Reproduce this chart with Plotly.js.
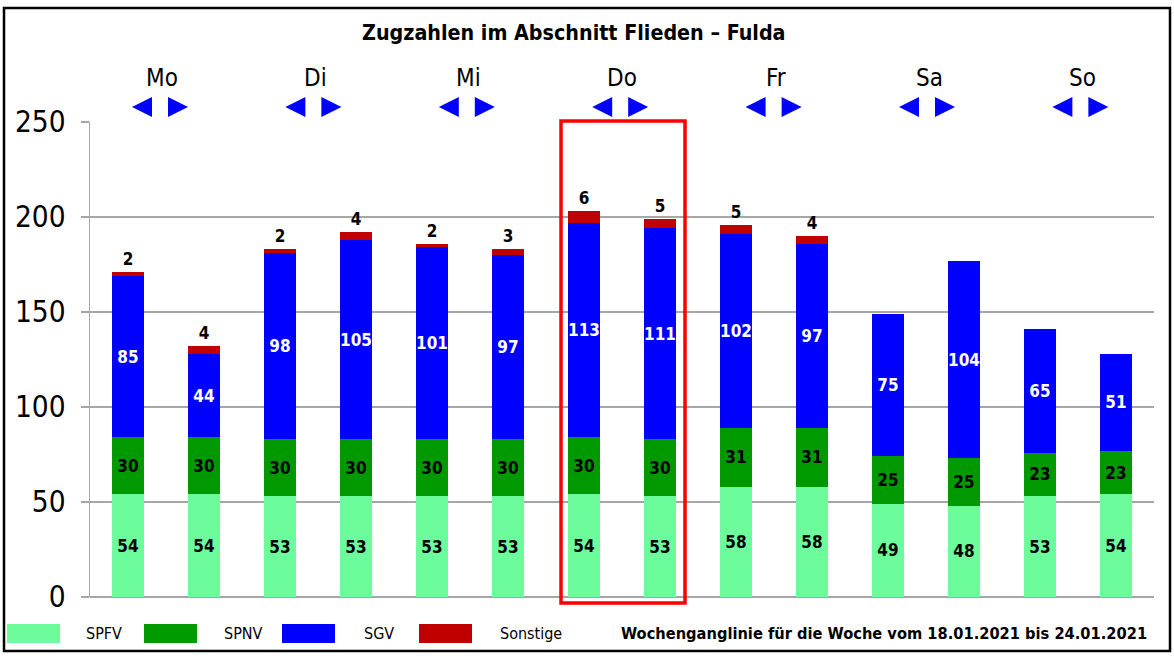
<!DOCTYPE html>
<html>
<head>
<meta charset="utf-8">
<script src="https://cdn.plot.ly/plotly-3.0.1.min.js"></script>
<style>
html,body{margin:0;padding:0;background:#fff;}
#chart{width:1174px;height:656px;}
</style>
</head>
<body>
<div id="chart"></div>
<script>
// ---- data ----
const categories = ['Mo-1','Mo-2','Di-1','Di-2','Mi-1','Mi-2','Do-1','Do-2','Fr-1','Fr-2','Sa-1','Sa-2','So-1','So-2'];
const days = ['Mo','Di','Mi','Do','Fr','Sa','So'];
const spfv = [54,54,53,53,53,53,54,53,58,58,49,48,53,54];
const spnv = [30,30,30,30,30,30,30,30,31,31,25,25,23,23];
const sgv  = [85,44,98,105,101,97,113,111,102,97,75,104,65,51];
const sonstige = [2,4,2,4,2,3,6,5,5,4,0,0,0,0];
const seriesNames = ['SPFV','SPNV','SGV','Sonstige'];
const seriesColors = ['#6dfc9c','#009a00','#0000ff','#c00000'];
const titleText = 'Zugzahlen im Abschnitt Flieden – Fulda';
const footText = 'Wochenganglinie für die Woche vom 18.01.2021 bis 24.01.2021';
const yTicks = [0,50,100,150,200,250];

// ---- layout helpers (pixel -> paper) ----
const L = 90, R = 1154, T = 122, B = 597;
const W = R - L, H = B - T;
const px = x => (x - L) / W;
const py = y => (B - y) / H;

const FONT = '"DejaVu Sans Condensed", "Liberation Sans Narrow", "DejaVu Sans", sans-serif';
const lblFont = (c) => ({family: FONT, size: 17, color: c, weight: 'bold'});

const values = [spfv, spnv, sgv, sonstige];
const textColors = ['#000000','#000000','#ffffff','#000000'];
const traces = values.map((v, i) => ({
  type: 'bar',
  name: seriesNames[i],
  x: categories,
  y: v,
  marker: {color: seriesColors[i], line: {width: 0}},
  text: v.map(n => (i === 3 && n === 0) ? '' : String(n)),
  textposition: i === 3 ? 'outside' : 'inside',
  insidetextanchor: 'middle',
  textangle: 0,
  constraintext: 'none',
  cliponaxis: false,
  textfont: lblFont(textColors[i]),
  insidetextfont: lblFont(textColors[i]),
  outsidetextfont: lblFont(textColors[i]),
  hoverinfo: 'skip',
  showlegend: false
}));

const shapes = [];
const annotations = [];

// outer border
shapes.push({type:'rect', xref:'paper', yref:'paper', x0:px(4), x1:px(1170), y0:py(651), y1:py(8),
  line:{color:'#000', width:2.5}, fillcolor:'rgba(0,0,0,0)', layer:'above'});

// highlight rectangle around Do
shapes.push({type:'rect', xref:'paper', yref:'paper', x0:px(561), x1:px(685), y0:py(603), y1:py(121),
  line:{color:'#ff0000', width:3.5}, fillcolor:'rgba(0,0,0,0)', layer:'above'});

// day labels and arrows
days.forEach((d, k) => {
  const cx = px(160 + k * 153.4);
  annotations.push({xref:'paper', yref:'paper', x:px(162 + k * 153.4), y:py(78), text:d, showarrow:false,
    xanchor:'center', yanchor:'middle', font:{family:FONT, size:24, color:'#000'}});
  shapes.push({type:'path', xref:'paper', yref:'paper', xsizemode:'pixel', ysizemode:'pixel',
    xanchor:cx, yanchor:py(107), path:'M -28 0 L -8 10 L -8 -10 Z',
    fillcolor:'#0000ff', line:{width:0}});
  shapes.push({type:'path', xref:'paper', yref:'paper', xsizemode:'pixel', ysizemode:'pixel',
    xanchor:cx, yanchor:py(107), path:'M 28 0 L 8 10 L 8 -10 Z',
    fillcolor:'#0000ff', line:{width:0}});
});

// custom legend
const swX = [7,144,282,419];
const txX = [84,222,362,498];
seriesNames.forEach((n, i) => {
  shapes.push({type:'rect', xref:'paper', yref:'paper', x0:px(swX[i]), x1:px(swX[i]+53),
    y0:py(643), y1:py(624), fillcolor:seriesColors[i], line:{width:0}});
  annotations.push({xref:'paper', yref:'paper', x:px(txX[i]), y:py(633), text:n, showarrow:false,
    xanchor:'left', yanchor:'middle', font:{family:FONT, size:16, color:'#000'}});
});
annotations.push({xref:'paper', yref:'paper', x:px(1149), y:py(633), text:footText, showarrow:false,
  xanchor:'right', yanchor:'middle', font:{family:FONT, size:16.3, color:'#000', weight:'bold'}});

// title
annotations.push({xref:'paper', yref:'paper', x:px(574), y:py(32), text:titleText, showarrow:false,
  xanchor:'center', yanchor:'middle', font:{family:FONT, size:21.3, color:'#000', weight:'bold'}});

const layout = {
  width: 1174, height: 656,
  margin: {l: L, r: 1174 - R, t: T, b: 656 - B, pad: 0},
  paper_bgcolor: '#fff', plot_bgcolor: '#fff',
  barmode: 'stack',
  bargap: 0.59,
  showlegend: false,
  xaxis: {type:'category', showticklabels:false, ticks:'', showgrid:false, zeroline:false,
    showline:false, range:[-0.5, 13.5], fixedrange:true},
  yaxis: {range:[0,250], tickvals:yTicks, ticktext:yTicks.map(String), showgrid:true,
    gridcolor:'#a6a6a6', gridwidth:1.5, zeroline:true, zerolinecolor:'#a6a6a6', zerolinewidth:1.5,
    showline:true, linecolor:'#a6a6a6', linewidth:1.5, ticks:'outside', ticklen:8,
    tickcolor:'#a6a6a6', tickwidth:1.5, ticklabelstandoff:9,
    tickfont:{family:FONT, size:29.5, color:'#000'}, fixedrange:true},
  shapes: shapes,
  annotations: annotations
};

Plotly.newPlot('chart', traces, layout, {displayModeBar:false, staticPlot:true});
</script>
</body>
</html>
